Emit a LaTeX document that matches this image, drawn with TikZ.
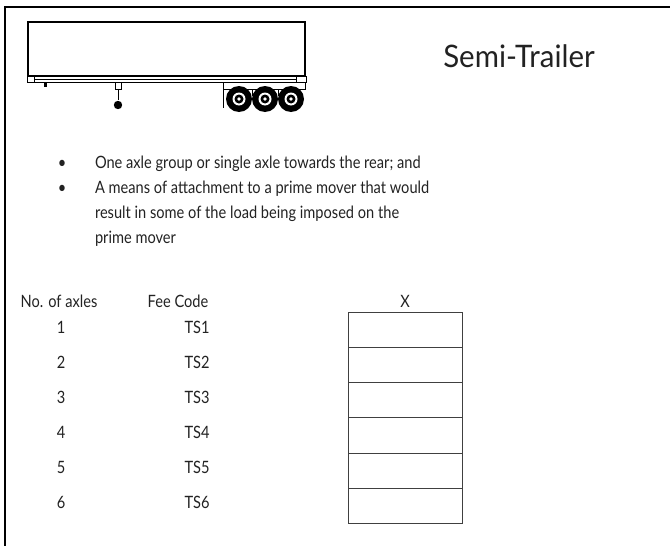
\documentclass[tikz,border=0pt]{standalone}
\usepackage{fontspec}
\setmainfont{Lato}
\newfontfamily\narrowfont{Lato}[FakeStretch=0.86]
\newfontfamily\titlefont{Lato}[FakeStretch=0.95]
\definecolor{txt}{HTML}{222222}
\begin{document}
\begin{tikzpicture}[x=1pt,y=-1pt,
  every node/.style={inner sep=0pt,outer sep=0pt,text=txt},
  body/.style={font=\narrowfont\fontsize{17}{20}\selectfont},
  head/.style={font=\narrowfont\fontsize{17}{20}\selectfont},
  cell/.style={draw=black!75,line width=1pt,minimum width=114pt,minimum height=35.3pt,anchor=north west},
  frameline/.style={line width=1.6pt,black}]
\useasboundingbox (0,0) rectangle (670,546);
% frame
\coordinate (ftl) at (5,7);
\coordinate (ftr) at (670,7);
\coordinate (fbl) at (5,546);
\draw[frameline] (fbl) -- (ftl) -- (ftr);
% trailer
\draw[line width=1.1pt] (28,22) rectangle (305,76);
\draw[line width=1pt] (27,76) rectangle (306,82);
\draw[line width=0.6pt] (34,79) -- (296,79);
\draw[line width=0.5pt] (34,76) -- (34,82) (296,76) -- (296,82);
\fill (44,82) rectangle (47,87);
\draw[line width=0.8pt] (115,82) rectangle (121,89);
\draw[line width=1pt] (118,89) -- (118,100);
\fill (118,105) circle (4.2);
\draw[line width=0.6pt] (223,82) rectangle (305,89);
\draw[line width=0.8pt] (223,89) -- (223,108);
\draw[line width=0.6pt] (252,89) -- (252,96) (278,89) -- (278,96);
\begin{scope}
\clip (200,80) rectangle (306,120);
\foreach \cx in {239,265,291}{
  \fill (\cx,99) circle (13);
  \fill[white] (\cx,99) circle (6.5);
  \fill (\cx,99) circle (4.5);
  \fill[white] (\cx,99) circle (1.8);
}
\end{scope}
% title
\node[anchor=base,font=\titlefont\fontsize{31}{36}\selectfont] (title) at (519,67) {Semi-Trailer};
% bullets
\node[anchor=base,body] (b1) at (62,168) {•};
\node[anchor=base west,body] (t1) at (95,168) {One axle group or single axle towards the rear; and};
\node[anchor=base,body] (b2) at (62,193) {•};
\node[anchor=base west,body] (t2) at (95,193) {A means of attachment to a prime mover that would};
\node[anchor=base west,body] (t3) at (95,218) {result in some of the load being imposed on the};
\node[anchor=base west,body] (t4) at (95,243) {prime mover};
% table headers
\node[anchor=base,head] (hax) at (59,307) {No. of axles};
\node[anchor=base,head] (hfc) at (178,307) {Fee Code};
\node[anchor=base,head] (hx) at (405,307) {X};
% rows
\foreach \n [count=\i from 0] in {1,...,6}{
  \node[anchor=base,body] (ax\n) at (61,333+35*\i) {\n};
  \node[anchor=base,body] (fc\n) at (197,333+35*\i) {TS\n};
  \node[cell] (cx\n) at (348,312+35.3*\i) {};
}
\end{tikzpicture}
\end{document}
